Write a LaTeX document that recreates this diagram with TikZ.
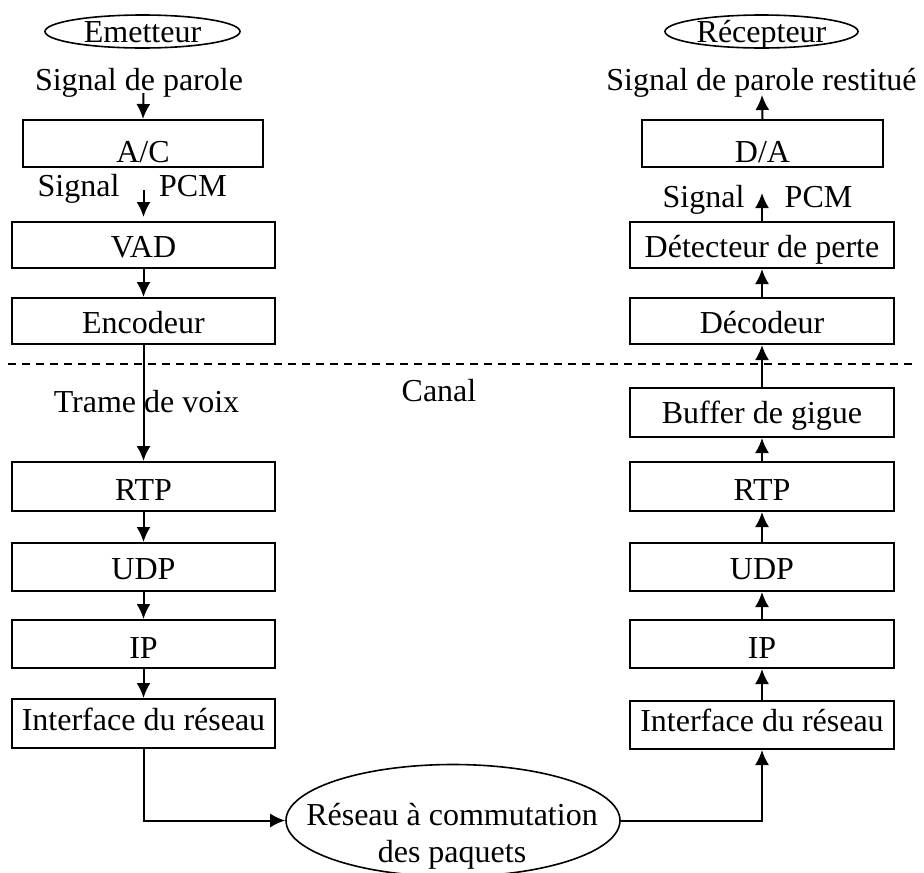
\documentclass[tikz,border=0pt]{standalone}
\usepackage{fontspec}
\setmainfont{Liberation Serif}
\usetikzlibrary{arrows.meta,shapes.geometric}
\begin{document}
\begin{tikzpicture}[x=1pt,y=-1pt,
  every node/.style={font=\fontsize{32}{37}\selectfont},
  blk/.style={draw, line width=2pt, rectangle, inner sep=0pt,
              text height=#1, text depth=1pt},
  blk/.default=25pt,
  lcol/.style={minimum width=263pt},
  rcol/.style={minimum width=264pt},
  oval/.style={draw, line width=1.6pt, ellipse, inner sep=0pt},
  arr/.style={line width=2pt, -{Latex[length=15pt,width=14pt]}},
  lbl/.style={inner sep=0pt, anchor=base},
]
\useasboundingbox (0,0) rectangle (924,873);
\fill[white] (0,0) rectangle (924,873);

% sender chain
\node[oval, minimum width=195pt, minimum height=33pt, text height=22pt, text depth=0pt] (em) at (142.5,31.5) {Emetteur};
\node[lbl] (spin) at (139,90) {Signal de parole};
\node[blk=38pt, minimum width=240pt, minimum height=47pt] (ac) at (143,143.5) {A/C};
\node[lbl] (sigL) at (78.5,196) {Signal};
\node[lbl] (pcmL) at (193,196) {PCM};
\node[blk, lcol, minimum height=46pt] (vad) at (143.5,245) {VAD};
\node[blk, lcol, minimum height=46pt] (enc) at (143.5,321) {Encodeur};
\node[lbl] (trame) at (146.5,412) {Trame de voix};
\node[blk=29pt, lcol, minimum height=49pt] (rtpL) at (143.5,486.5) {RTP};
\node[blk, lcol, minimum height=48pt] (udpL) at (143.5,567) {UDP};
\node[blk=29pt, lcol, minimum height=48pt] (ipL) at (143.5,644) {IP};
\node[blk=15pt, lcol, minimum height=49pt] (ifL) at (143.5,723.5) {Interface du réseau};

% receiver chain
\node[oval, minimum width=193pt, minimum height=33pt, text height=22pt, text depth=0pt] (rc) at (761.5,31.5) {Récepteur};
\node[lbl] (spout) at (761.5,90) {Signal de parole restitué};
\node[blk=38pt, minimum width=241pt, minimum height=47pt] (da) at (762.5,143.5) {D/A};
\node[lbl] (sigR) at (703.5,207) {Signal};
\node[lbl] (pcmR) at (818.5,207) {PCM};
\node[blk, rcol, minimum height=46pt] (det) at (762,245) {Détecteur de perte};
\node[blk, rcol, minimum height=46pt] (dec) at (762,321) {Décodeur};
\node[blk=22pt, rcol, minimum height=49pt] (buf) at (762,412.5) {Buffer de gigue};
\node[blk=29pt, rcol, minimum height=49pt] (rtpR) at (762,486.5) {RTP};
\node[blk, rcol, minimum height=48pt] (udpR) at (762,567) {UDP};
\node[blk=29pt, rcol, minimum height=48pt] (ipR) at (762,644) {IP};
\node[blk=13pt, rcol, minimum height=48pt] (ifR) at (762,725) {Interface du réseau};

% channel
\node[lbl] (canal) at (439,401) {Canal};
\coordinate (dashL) at (8,364);
\coordinate (dashR) at (912,364);
\draw[line width=1.8pt, dash pattern=on 8pt off 6pt] (dashL) -- (dashR);

% packet network
\node[oval, minimum width=334pt, minimum height=112pt] (net) at (453,820.5) {};
\node[align=center, inner sep=0pt] (netlbl) at (452,836) {Réseau à commutation\\des paquets};

% free ends of the signal arrows
\coordinate (inL) at (143.5,93);
\coordinate (pcmLtop) at (143.5,190);
\coordinate (outR) at (762,95);
\coordinate (pcmRtip) at (762,193);

% sender arrows
\draw[arr] (inL) -- (ac.north);
\draw[arr, shorten >=4pt] (pcmLtop) -- (vad.north);
\draw[arr] (vad.south) -- (enc.north);
\draw[arr] (enc.south) -- (rtpL.north);
\draw[arr] (rtpL.south) -- (udpL.north);
\draw[arr] (udpL.south) -- (ipL.north);
\draw[arr] (ipL.south) -- (ifL.north);
\draw[arr] (ifL.south) |- (net.west);

% receiver arrows
\draw[arr] (net.east) -| (ifR.south);
\draw[arr] (ifR.north) -- (ipR.south);
\draw[arr] (ipR.north) -- (udpR.south);
\draw[arr] (udpR.north) -- (rtpR.south);
\draw[arr] (rtpR.north) -- (buf.south);
\draw[arr] (buf.north) -- (dec.south);
\draw[arr] (dec.north) -- (det.south);
\draw[arr] (det.north) -- (pcmRtip);
\draw[arr] (da.north) -- (outR);
\end{tikzpicture}
\end{document}
